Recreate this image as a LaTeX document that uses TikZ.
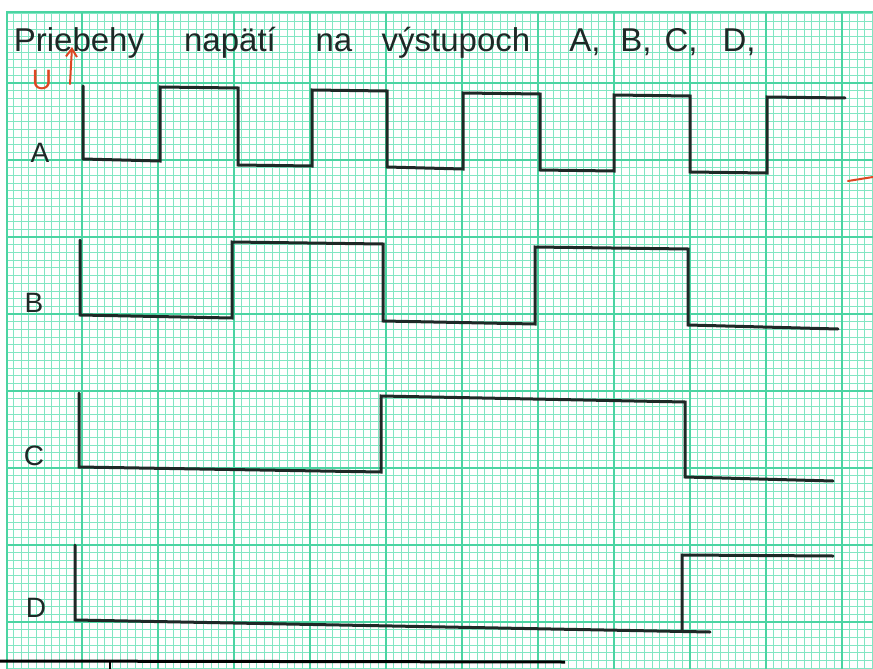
\documentclass[tikz,border=0pt]{standalone}
\usepackage{fontspec}
\setmainfont{Liberation Sans}
\usetikzlibrary{arrows.meta}
\definecolor{gminor}{RGB}{130,230,195}
\definecolor{gmajor}{RGB}{75,212,162}
\definecolor{ink}{RGB}{30,40,38}
\definecolor{redink}{RGB}{222,70,35}
\tikzset{
  minorline/.style={gminor,line width=0.8pt},
  majorline/.style={gmajor,line width=1.5pt},
  wave/.style={ink,line width=3pt,line join=miter,line cap=round},
  titletext/.style={ink,font=\fontsize{33}{33}\selectfont,inner sep=0pt,anchor=base},
  sigtext/.style={ink,font=\fontsize{28}{28}\selectfont,inner sep=0pt,anchor=base},
  redline/.style={redink,line width=2pt,line cap=round}
}
\begin{document}
\begin{tikzpicture}[x=1pt,y=-1pt]
\useasboundingbox (0,0) rectangle (873,669);
\fill[white] (0,0) rectangle (873,669);
% grid
\foreach \i in {1,...,114} {
  \draw[minorline] ({6+7.6*\i},12) -- ({6+7.6*\i},669);
}
\foreach \j in {1,...,86} {
  \draw[minorline] (6,{6+7.7*\j}) -- (873,{6+7.7*\j});
}
\foreach \i in {1,...,11} {
  \draw[majorline] ({6+76*\i},12) -- ({6+76*\i},669);
}
\foreach \j in {1,...,8} {
  \draw[majorline] (6,{6+77*\j}) -- (873,{6+77*\j});
}
\draw[majorline] (7,669) -- (7,12) -- (873,12);
% title
\node[titletext] (t1) at (79,52) {Priebehy};
\node[titletext] (t2) at (230,52) {napätí};
\node[titletext] (t3) at (334,52) {na};
\node[titletext] (t4) at (456,52) {výstupoch};
\node[titletext] (t5) at (585,52) {A,};
\node[titletext] (t6) at (636,52) {B,};
\node[titletext] (t7) at (681,52) {C,};
\node[titletext] (t8) at (739,52) {D,};
% red U and arrow
\node[redink,font=\fontsize{28}{28}\selectfont,inner sep=0pt,anchor=base] (u) at (42,89) {U};
\coordinate (arrA) at (70,84);
\coordinate (arrB) at (72,47);
\draw[redline,-{Straight Barb[length=8pt,width=11pt]}] (arrA) -- (arrB);
\coordinate (rA) at (848,181);
\coordinate (rB) at (873,177);
\draw[redline] (rA) -- (rB);
% signal labels
\node[sigtext] (lA) at (40,162) {A};
\node[sigtext] (lB) at (34,312) {B};
\node[sigtext] (lC) at (34,465) {C};
\node[sigtext] (lD) at (36,617) {D};
% waveforms
\draw[wave] (83,86) -- (83,159) -- (160,161) -- (160,87) -- (238,88) -- (238,165) -- (312,166) -- (312,90) -- (387,91) -- (387,167) -- (463,169) -- (463,93) -- (540,94) -- (540,170) -- (614,171) -- (614,95) -- (690,96) -- (690,172) -- (767,173) -- (767,97) -- (845,98);
\draw[wave] (80,240) -- (80,315) -- (232,318) -- (232,242) -- (383,244) -- (383,321) -- (535,324) -- (535,247) -- (688,249) -- (688,325) -- (838,329);
\draw[wave] (79,393) -- (79,467) -- (381,472) -- (381,396) -- (685,402) -- (685,477) -- (833,481);
\draw[wave] (75,545) -- (75,620) -- (710,632);
\draw[wave] (682,631) -- (682,555) -- (833,556);
% bottom edge
\draw[black,line width=3pt] (0,661) -- (565,662);
\draw[black,line width=1.5pt] (110,661) -- (110,669);
\end{tikzpicture}
\end{document}
